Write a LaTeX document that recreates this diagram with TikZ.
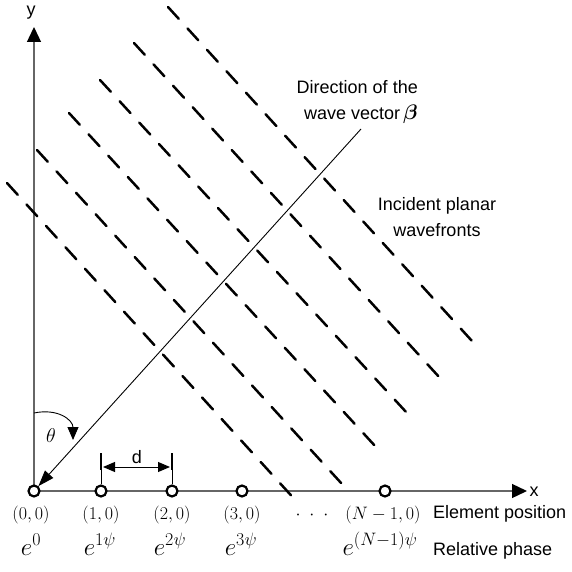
\RequirePackage{fix-cm}
\documentclass[tikz,border=0pt]{standalone}
\usepackage{amsmath}
\usepackage{bm}
\usepackage[no-math]{fontspec}
\setmainfont{Liberation Sans}
\DeclareMathSizes{18}{18}{13}{10}
\DeclareMathSizes{25}{25}{18}{13}
\usetikzlibrary{arrows.meta}
\begin{document}
\begin{tikzpicture}[x=1pt,y=-1pt,
  font=\fontsize{18}{26}\selectfont,
  axisline/.style={draw=black!60, line width=1.3pt, -{Triangle[length=15pt,width=14pt,color=black]}},
  elem/.style={circle, draw=black, line width=2.2pt, fill=white, minimum size=11pt, inner sep=0pt},
  wavefront/.style={line width=2.5pt, line cap=round, dash pattern=on 16pt off 13pt},
  wvec/.style={line width=0.9pt, -{Triangle[length=16pt,width=11pt]}},
  lbl/.style={inner sep=0pt, anchor=base},
  phase/.style={inner sep=0pt, anchor=base, font=\fontsize{25}{30}\selectfont},
  tickbar/.style={line width=2.4pt},
  thinbar/.style={line width=0.8pt},
  darrow/.style={line width=1pt, {Triangle[length=12pt,width=10pt]}-{Triangle[length=12pt,width=10pt]}},
  thetaarrow/.style={line width=0.9pt, -{Triangle[length=13pt,width=11pt]}}
]
\useasboundingbox (0,0) rectangle (571,572);

% axes
\coordinate (o) at (34,491);
\coordinate (ytip) at (34,27);
\coordinate (xtip) at (527,491);
\draw[axisline] (o) -- (ytip);
\draw[axisline] (o) -- (xtip);
\node[inner sep=0pt] (ylab) at (31,13) {y};
\node[inner sep=0pt] (xlab) at (534,492) {x};

% wavefronts
\coordinate (a1) at (7,183);   \coordinate (b1) at (298,503);
\coordinate (a2) at (37,150);  \coordinate (b2) at (342,484);
\coordinate (a3) at (69,113);  \coordinate (b3) at (376,447);
\coordinate (a4) at (100,80);  \coordinate (b4) at (407,413);
\coordinate (a5) at (134,43);  \coordinate (b5) at (440,378);
\coordinate (a6) at (168,7);   \coordinate (b6) at (472,341);
\foreach \i in {1,...,6} \draw[wavefront] (a\i) -- (b\i);

% elements
\node[elem] (c0) at (34,491) {};
\node[elem] (c1) at (101,491) {};
\node[elem] (c2) at (172,491) {};
\node[elem] (c3) at (242,491) {};
\node[elem] (c4) at (385,491) {};

% wave vector
\coordinate (wtop) at (361,129);
\draw[wvec] (wtop) -- (c0);

% theta arc
\coordinate (th0) at (34,413);
\coordinate (th1) at (73,440);
\draw[thetaarrow] (th0) .. controls (58,408) and (73,420) .. (th1);
\node[inner sep=0pt, font=\fontsize{20}{24}\selectfont] (theta) at (51,436) {$\theta$};

% d marker
\coordinate (d1t) at (101,453); \coordinate (d1m) at (101,470);
\coordinate (d2t) at (172,453); \coordinate (d2m) at (172,470);
\draw[thinbar] (c1.north) -- (d1t);
\draw[thinbar] (c2.north) -- (d2t);
\draw[tickbar] (d1t) -- (d1m);
\draw[tickbar] (d2t) -- (d2m);
\coordinate (da) at (103,467); \coordinate (db) at (170,467);
\draw[darrow] (da) -- (db);
\node[inner sep=0pt] (dlab) at (137,457) {d};

% labels
\node[lbl] (p0) at (31,519) {$(0,0)$};
\node[lbl] (p1) at (101,519) {$(1,0)$};
\node[lbl] (p2) at (172,519) {$(2,0)$};
\node[lbl] (p3) at (242,519) {$(3,0)$};
\node[lbl] (dots) at (312,519) {$\cdotp$\hspace{9pt}$\cdotp$\hspace{9pt}$\cdotp$};
\node[lbl] (p4) at (383,519) {$(N-1,0)$};
\node[lbl, anchor=base west] (elpos) at (433,518) {Element position};

\node[phase] (e0) at (31,555) {$e^{0}$};
\node[phase] (e1) at (100,555) {$e^{1\psi}$};
\node[phase] (e2) at (170,555) {$e^{2\psi}$};
\node[phase] (e3) at (241,555) {$e^{3\psi}$};
\node[phase] (e4) at (380,555) {$e^{(N-1)\psi}$};
\node[lbl, anchor=base west] (relph) at (433,555) {Relative phase};

% text labels
\node[inner sep=0pt, anchor=north east, align=right] (dirlab) at (418,80)
  {Direction of the\\wave vector\,{\fontsize{21}{26}\selectfont$\bm{\beta}$}};
\node[inner sep=0pt, anchor=north, align=center] (inclab) at (437,197)
  {Incident planar\\wavefronts};
\end{tikzpicture}
\end{document}
